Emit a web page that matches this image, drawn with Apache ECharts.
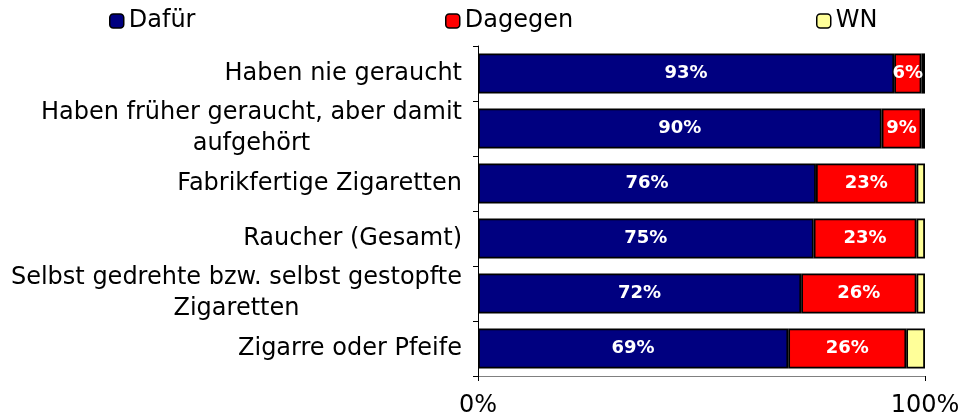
<!DOCTYPE html>
<html>
<head>
<meta charset="utf-8">
<script src="https://cdn.jsdelivr.net/npm/echarts@6/dist/echarts.min.js"></script>
<style>html,body{margin:0;padding:0;background:#fff;}#c{width:964px;height:420px;}</style>
</head>
<body>
<div id="c"></div>
<script>
var categories = [
  'Haben nie geraucht',
  'Haben früher geraucht, aber damit\naufgehört',
  'Fabrikfertige Zigaretten',
  'Raucher (Gesamt)',
  'Selbst gedrehte bzw. selbst gestopfte\nZigaretten',
  'Zigarre oder Pfeife'
];
var seriesNames = ['Dafür', 'Dagegen', 'WN'];
var dafuer  = [93.1, 90.3, 75.6, 75.1, 72.3, 69.4];
var dagegen = [6.1, 8.9, 22.5, 23.0, 25.8, 26.4];
var wn      = [0.8, 0.8, 1.9, 1.9, 1.9, 4.2];
var xTickLabels = ['0%', '100%'];

var colors = ['#000080', '#FF0000', '#FFFF99'];
var FONT = 'DejaVu Sans';

function labelFmt(p) { return Math.round(p.value) + '%'; }

function mkSeries(name, data, color, showLabel) {
  return {
    name: name,
    type: 'bar',
    stack: 'total',
    data: data,
    barCategoryGap: '27%',
    itemStyle: { color: color, borderColor: '#000', borderWidth: 1.8 },
    label: {
      show: showLabel,
      position: 'inside',
      formatter: labelFmt,
      color: '#fff',
      fontFamily: FONT,
      fontWeight: 'bold',
      fontSize: 18
    },
    emphasis: { disabled: true }
  };
}

var legendBase = {
  top: 4,
  itemWidth: 14,
  itemHeight: 14,
  itemGap: 6,
  textStyle: { fontFamily: FONT, fontSize: 24, color: '#000' },
  itemStyle: { borderColor: '#000', borderWidth: 1.5 },
  selectedMode: false
};

var chart = echarts.init(document.getElementById('c'), null, { renderer: 'canvas' });
chart.setOption({
  animation: false,
  backgroundColor: '#fff',
  legend: [
    Object.assign({}, legendBase, { data: [seriesNames[0]], left: 104 }),
    Object.assign({}, legendBase, { data: [seriesNames[1]], left: 440 }),
    Object.assign({}, legendBase, { data: [seriesNames[2]], left: 811 })
  ],
  grid: { left: 478, right: 39, top: 46, bottom: 44, containLabel: false },
  xAxis: {
    type: 'value',
    min: 0,
    max: 100,
    interval: 100,
    splitLine: { show: false },
    axisLine: { show: true, lineStyle: { color: '#808080', width: 1 } },
    axisTick: { show: true, length: 5, lineStyle: { color: '#000' } },
    axisLabel: {
      margin: 18,
      fontFamily: FONT,
      fontSize: 24,
      color: '#000',
      formatter: function (v) { return v === 0 ? xTickLabels[0] : (v === 100 ? xTickLabels[1] : ''); }
    }
  },
  yAxis: {
    type: 'category',
    inverse: true,
    data: categories,
    axisLine: { show: true, lineStyle: { color: '#000', width: 1 } },
    axisTick: { show: true, length: 5, lineStyle: { color: '#000' } },
    axisLabel: {
      margin: 16,
      fontFamily: FONT,
      fontSize: 24,
      color: '#000',
      lineHeight: 31,
      formatter: function (v) {
        return v.split('\n').map(function (l) { return '{c|' + l + '}'; }).join('\n');
      },
      rich: {
        c: { align: 'center', fontFamily: FONT, fontSize: 24, color: '#000', lineHeight: 31 }
      }
    }
  },
  series: [
    mkSeries(seriesNames[0], dafuer, colors[0], true),
    mkSeries(seriesNames[1], dagegen, colors[1], true),
    mkSeries(seriesNames[2], wn, colors[2], false)
  ]
});
</script>
</body>
</html>
